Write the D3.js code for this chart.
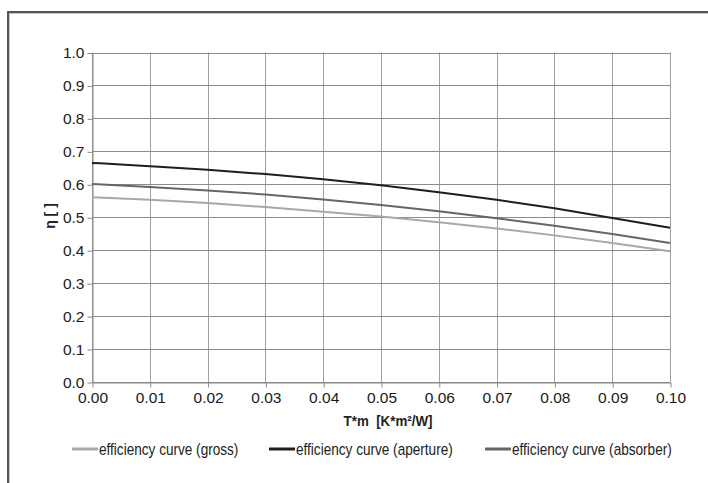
<!DOCTYPE html>
<html>
<head>
<meta charset="utf-8">
<script src="https://cdn.jsdelivr.net/npm/d3@7"></script>
<style>
  body { margin: 0; background: #fff; }
  svg { display: block; font-family: "Liberation Sans", Arial, sans-serif; }
</style>
</head>
<body>
<div id="chart"></div>
<script>
const xValues = [0.00, 0.01, 0.02, 0.03, 0.04, 0.05, 0.06, 0.07, 0.08, 0.09, 0.10];
const gross = [0.561, 0.553, 0.543, 0.531, 0.517, 0.502, 0.485, 0.466, 0.445, 0.422, 0.397];
const aperture = [0.665, 0.655, 0.644, 0.631, 0.615, 0.597, 0.576, 0.553, 0.527, 0.498, 0.468];
const absorber = [0.601, 0.592, 0.581, 0.569, 0.554, 0.537, 0.518, 0.497, 0.474, 0.449, 0.422];
const yTicks = [0, 0.1, 0.2, 0.3, 0.4, 0.5, 0.6, 0.7, 0.8, 0.9, 1.0];

const series = [
  { name: "efficiency curve (gross)", values: gross, color: "#a8a8a8" },
  { name: "efficiency curve (aperture)", values: aperture, color: "#1e1e1e" },
  { name: "efficiency curve (absorber)", values: absorber, color: "#666666" }
];

const width = 708,
    height = 483,
    margin = ({ top: 52.5, right: 38, bottom: 101, left: 92 });

const svg = d3.select("#chart")
    .append("svg")
    .attr("width", width)
    .attr("height", height);

// outer frame (cut off at right and bottom)
svg.append("rect")
    .attr("x", 9.5).attr("y", 13.5)
    .attr("width", width).attr("height", height)
    .attr("fill", "none").attr("stroke", "#c8c8c8").attr("stroke-width", 1);
svg.append("rect")
    .attr("x", 8).attr("y", 12)
    .attr("width", width).attr("height", height)
    .attr("fill", "none").attr("stroke", "#555").attr("stroke-width", 2);

let x = d3.scaleLinear()
    .domain([0, 0.1])
    .range([margin.left, width - margin.right]);

let y = d3.scaleLinear()
    .domain([0, 1])
    .range([height - margin.bottom, margin.top]);

// grid
svg.append("g")
    .attr("class", "grid")
    .selectAll("line.v")
    .data(xValues)
    .join("line")
    .attr("x1", d => Math.round(x(d)) + 0.5)
    .attr("x2", d => Math.round(x(d)) + 0.5)
    .attr("y1", y(1))
    .attr("y2", y(0))
    .attr("stroke", "#a0a0a0");

svg.append("g")
    .attr("class", "grid")
    .selectAll("line.h")
    .data(yTicks)
    .join("line")
    .attr("x1", x(0))
    .attr("x2", x(0.1))
    .attr("y1", d => Math.round(y(d)) + 0.5)
    .attr("y2", d => Math.round(y(d)) + 0.5)
    .attr("stroke", "#8c8c8c");

// axes
svg.append("g")
    .attr("class", "x-axis")
    .attr("transform", `translate(0.5,${Math.round(y(0)) + 0.5})`)
    .call(d3.axisBottom(x).tickValues(xValues).tickFormat(d3.format(".2f")).tickSize(5).tickSizeOuter(0).tickPadding(3));

svg.append("g")
    .attr("class", "y-axis")
    .attr("transform", `translate(${Math.round(x(0)) + 0.5},0.5)`)
    .call(d3.axisLeft(y).tickValues(yTicks).tickFormat(d3.format(".1f")).tickSize(5).tickSizeOuter(0).tickPadding(3));

svg.selectAll(".x-axis path, .y-axis path, .x-axis line, .y-axis line").attr("stroke", "#888");
svg.selectAll(".x-axis text, .y-axis text")
    .attr("fill", "#1a1a1a")
    .style("font-size", "15.5px")
    .style("font-family", "'Liberation Sans', Arial, sans-serif");
svg.selectAll(".x-axis text").attr("dy", "0.8em");

// curves
const line = d3.line()
    .x((d, i) => x(xValues[i]))
    .y(d => y(d))
    .curve(d3.curveMonotoneX);

svg.append("g")
    .attr("class", "plot")
    .selectAll("path")
    .data(series)
    .join("path")
    .attr("d", d => line(d.values))
    .attr("fill", "none")
    .attr("stroke", d => d.color)
    .attr("stroke-width", 2);

// axis labels (the original font is condensed, so squeeze horizontally)
svg.append("text")
    .attr("class", "x-label")
    .attr("transform", "translate(388,426) scale(0.92,1)")
    .attr("text-anchor", "middle")
    .attr("xml:space", "preserve")
    .style("font-size", "14.5px")
    .style("font-weight", "bold")
    .attr("fill", "#222")
    .text("T*m  [K*m²/W]");

svg.append("text")
    .attr("class", "y-label")
    .attr("transform", "translate(55,216) rotate(-90)")
    .attr("text-anchor", "middle")
    .attr("xml:space", "preserve")
    .style("font-size", "14px")
    .style("font-weight", "bold")
    .attr("fill", "#222")
    .text("η [ ]");

// legend
const legendX = [72, 269, 485];
const legend = svg.append("g")
    .attr("class", "legend")
    .selectAll("g")
    .data(series)
    .join("g")
    .attr("transform", (d, i) => `translate(${legendX[i]},449)`);

legend.append("line")
    .attr("x1", 0).attr("x2", 26)
    .attr("y1", 0).attr("y2", 0)
    .attr("stroke", d => d.color)
    .attr("stroke-width", 3);

legend.append("text")
    .attr("transform", "translate(27,5.5) scale(0.85,1)")
    .style("font-size", "16px")
    .attr("fill", "#222")
    .text(d => d.name);
</script>
</body>
</html>
